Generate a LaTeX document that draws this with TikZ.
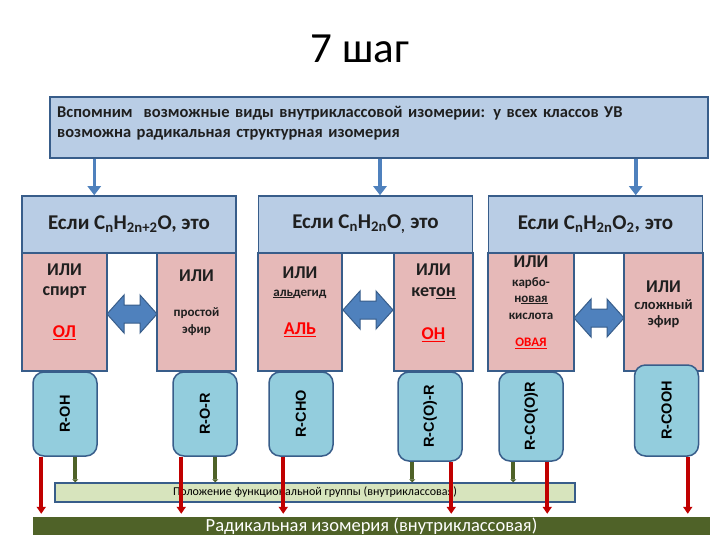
\documentclass[tikz,border=0pt]{standalone}
\usepackage{fontspec}
\setmainfont{Carlito}
\newfontfamily\grpfont{Liberation Sans}
\usetikzlibrary{arrows.meta,positioning}
\definecolor{boxline}{HTML}{385D8A}
\definecolor{skyfill}{HTML}{B9CDE5}
\definecolor{pinkfill}{HTML}{E6B9B8}
\definecolor{grpfill}{HTML}{93CDDD}
\definecolor{arrblue}{HTML}{4F81BD}
\definecolor{posfill}{HTML}{D7E4BD}
\definecolor{olivedark}{HTML}{4F6228}
\definecolor{reddark}{HTML}{C00000}
\definecolor{txtdark}{HTML}{1F1F1F}
\tikzset{
  titletext/.style={font=\fontsize{43}{46}\selectfont,text=black},
  topbox/.style={draw=boxline,line width=1.5pt,fill=skyfill,minimum width=658pt,
    minimum height=61pt,inner sep=0pt},
  toptext/.style={text width=650pt,align=left,inner sep=0pt,
    font=\fontsize{16.5}{20}\selectfont\bfseries,text=txtdark},
  headbox/.style={draw=boxline,line width=1.5pt,fill=skyfill,minimum width=214pt,
    minimum height=57pt,inner sep=0pt,font=\fontsize{21}{24}\selectfont\bfseries,text=txtdark},
  pinkbox/.style={draw=boxline,line width=1.5pt,fill=pinkfill,minimum height=118pt,inner sep=0pt},
  grpbox/.style={draw=boxline,line width=1.5pt,fill=grpfill,rounded corners=11pt,
    minimum width=64pt,inner sep=0pt,font=\grpfont\fontsize{14.5}{17}\selectfont\bfseries,text=black},
  ptext/.style={inner sep=0pt,font=\fontsize{18}{20}\selectfont\bfseries,text=txtdark},
  psmall/.style={inner sep=0pt,font=\fontsize{13}{15}\selectfont\bfseries,text=txtdark},
  pred/.style={inner sep=0pt,font=\fontsize{18}{20}\selectfont\bfseries,text=red},
  posbar/.style={draw=boxline,line width=1.5pt,fill=posfill,minimum width=520pt,
    minimum height=19pt,inner sep=0pt,font=\fontsize{12}{14}\selectfont,text=black},
  radbar/.style={fill=olivedark,minimum width=677pt,minimum height=18pt,inner sep=0pt,
    font=\fontsize{18.5}{19}\selectfont,text=white},
  bluearr/.style={-{Triangle[length=9pt,width=13pt]},line width=3.5pt,draw=arrblue},
  redarr/.style={-{Triangle[length=7pt,width=9pt]},line width=4pt,draw=reddark,shorten >=3pt},
  greenarr/.style={-{Triangle[length=3pt,width=6pt]},line width=4pt,draw=olivedark},
  dblarrow/.style={fill=arrblue,draw=boxline,line width=1pt}
}
\begin{document}
\begin{tikzpicture}[x=1pt,y=-1pt]
  \useasboundingbox (0,0) rectangle (720,540);
  \node[titletext] (title) at (360,49) {7 шаг};
  \node[topbox] (top) at (379,127.5) {};
  \node[toptext,anchor=west] (toptxt) at (57,123) {Вспомним\ \ возможные виды внутриклассовой изомерии: у всех классов УВ\\возможна радикальная структурная изомерия};
  % class headers
  \node[headbox] (h1) at (129,224.5) {Если C\textsubscript{n}H\textsubscript{2n+2}O, это};
  \node[headbox] (h2) at (365.5,224.5) {Если C\textsubscript{n}H\textsubscript{2n}O\textsubscript{,} это};
  \node[headbox] (h3) at (595.5,224.5) {Если C\textsubscript{n}H\textsubscript{2n}O\textsubscript{2}, это};
  \draw[bluearr] ([xshift=45pt]top.south west) -- ([xshift=45pt]top.south west |- h1.north);
  \draw[bluearr] ([xshift=1pt]top.south) -- ([xshift=1pt]top.south |- h2.north);
  \draw[bluearr] ([xshift=-73pt]top.south east) -- ([xshift=-73pt]top.south east |- h3.north);
  % isomer boxes
  \node[pinkbox,minimum width=85pt] (p1a) at (64.5,312) {};
  \node[pinkbox,minimum width=79pt] (p1b) at (196.5,312) {};
  \node[pinkbox,minimum width=84pt] (p2a) at (300,312) {};
  \node[pinkbox,minimum width=79pt] (p2b) at (433.5,312) {};
  \node[pinkbox,minimum width=86pt] (p3a) at (531,312) {};
  \node[pinkbox,minimum width=79pt] (p3b) at (663.5,312) {};
  \foreach \xa/\xb/\yc in {107/157/314,343/393/310,574/624/318}
    \draw[dblarrow] (\xa,\yc) -- (\xa+17,\yc-19) -- (\xa+17,\yc-9) -- (\xb-17,\yc-9)
      -- (\xb-17,\yc-19) -- (\xb,\yc) -- (\xb-17,\yc+19) -- (\xb-17,\yc+9)
      -- (\xa+17,\yc+9) -- (\xa+17,\yc+19) -- cycle;
  % texts in boxes
  \node[ptext] (t1a) at (64.5,270) {ИЛИ};
  \node[ptext] (t1b) at (64.5,292) {спирт};
  \node[pred] (t1c) at (64.5,333) {\underline{ОЛ}};
  \node[ptext] (t2a) at (196.5,276) {ИЛИ};
  \node[psmall] (t2b) at (196.5,313) {простой};
  \node[psmall] (t2c) at (196.5,330) {эфир};
  \node[ptext] (t3a) at (300,273) {ИЛИ};
  \node[psmall] (t3b) at (300,294) {\underline{аль}дегид};
  \node[pred] (t3c) at (300,330) {\underline{АЛЬ}};
  \node[ptext] (t4a) at (433.5,270) {ИЛИ};
  \node[ptext] (t4b) at (433.5,293) {кет\underline{он}};
  \node[pred] (t4c) at (433.5,335) {\underline{ОН}};
  \node[ptext] (t5a) at (531,262) {ИЛИ};
  \node[psmall] (t5b) at (531,283) {карбо-};
  \node[psmall] (t5c) at (531,300) {н\underline{овая}};
  \node[psmall] (t5d) at (531,316) {кислота};
  \node[psmall,text=red] (t5e) at (531,343) {\underline{ОВАЯ}};
  \node[ptext] (t6a) at (663.5,287) {ИЛИ};
  \node[psmall,font=\fontsize{14.5}{16}\selectfont\bfseries] (t6b) at (663.5,305) {сложный};
  \node[psmall,font=\fontsize{14.5}{16}\selectfont\bfseries] (t6c) at (663.5,322) {эфир};
  % functional groups
  \node[grpbox,minimum height=84pt] (roh) at (65,414) {\rotatebox{90}{R-OH}};
  \node[grpbox,minimum height=84pt] (ror) at (205,414) {\rotatebox{90}{R-O-R}};
  \node[grpbox,minimum height=84pt] (rcho) at (301,414) {\rotatebox{90}{R-CHO}};
  \node[grpbox,minimum height=89pt] (rcor) at (430,416.5) {\rotatebox{90}{R-C(O)-R}};
  \node[grpbox,minimum height=89pt] (rcoor) at (531,416.5) {\rotatebox{90}{R-CO(O)R}};
  \node[grpbox,minimum height=91pt] (rcooh) at (666.5,410.5) {\rotatebox{90}{R-COOH}};
  % bottom bars
  \node[posbar] (pos) at (315,492.5) {Положение функциональной группы (внутриклассовая)};
  \node[radbar] (rad) at (371.5,526) {Радикальная изомерия (внутриклассовая)};
  \draw[greenarr] ([xshift=43pt]roh.south west) -- ([xshift=43pt]roh.south west |- pos.north);
  \draw[greenarr] ([xshift=43pt]ror.south west) -- ([xshift=43pt]ror.south west |- pos.north);
  \draw[greenarr] ([xshift=15pt]rcor.south west) -- ([xshift=15pt]rcor.south west |- pos.north);
  \draw[greenarr] ([xshift=15pt]rcoor.south west) -- ([xshift=15pt]rcoor.south west |- pos.north);
  \draw[redarr] ([xshift=9pt]roh.south west) -- ([xshift=9pt]roh.south west |- rad.north);
  \draw[redarr] ([xshift=9pt]ror.south west) -- ([xshift=9pt]ror.south west |- rad.north);
  \draw[redarr] ([xshift=15pt]rcho.south west) -- ([xshift=15pt]rcho.south west |- rad.north);
  \draw[redarr] ([xshift=54pt]rcor.south west) -- ([xshift=54pt]rcor.south west |- rad.north);
  \draw[redarr] ([xshift=49pt]rcoor.south west) -- ([xshift=49pt]rcoor.south west |- rad.north);
  \draw[redarr] ([xshift=54pt]rcooh.south west) -- ([xshift=54pt]rcooh.south west |- rad.north);
\end{tikzpicture}
\end{document}
